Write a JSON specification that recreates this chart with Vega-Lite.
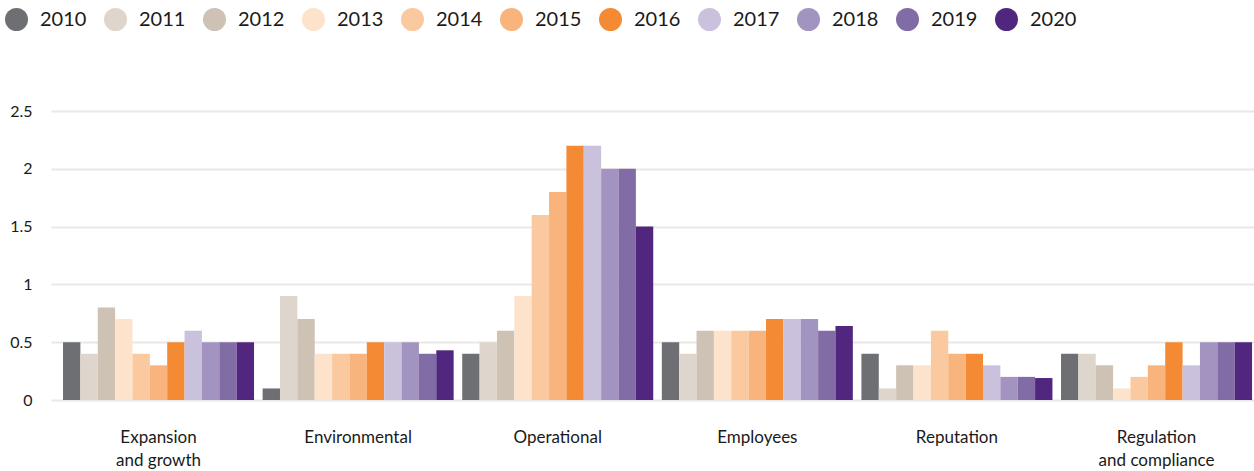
{
  "$schema": "https://vega.github.io/schema/vega-lite/v6.json",
  "width": 1203,
  "height": 289,
  "autosize": {"type": "none"},
  "padding": {"left": 51, "top": 111, "right": 0, "bottom": 71},
  "background": "white",
  "config": {
    "view": {"stroke": null},
    "font": "Lato"
  },
  "data": {
    "values": [
      {"category": "Expansion and growth", "year": "2010", "value": 0.5},
      {"category": "Expansion and growth", "year": "2011", "value": 0.4},
      {"category": "Expansion and growth", "year": "2012", "value": 0.8},
      {"category": "Expansion and growth", "year": "2013", "value": 0.7},
      {"category": "Expansion and growth", "year": "2014", "value": 0.4},
      {"category": "Expansion and growth", "year": "2015", "value": 0.3},
      {"category": "Expansion and growth", "year": "2016", "value": 0.5},
      {"category": "Expansion and growth", "year": "2017", "value": 0.6},
      {"category": "Expansion and growth", "year": "2018", "value": 0.5},
      {"category": "Expansion and growth", "year": "2019", "value": 0.5},
      {"category": "Expansion and growth", "year": "2020", "value": 0.5},
      {"category": "Environmental", "year": "2010", "value": 0.1},
      {"category": "Environmental", "year": "2011", "value": 0.9},
      {"category": "Environmental", "year": "2012", "value": 0.7},
      {"category": "Environmental", "year": "2013", "value": 0.4},
      {"category": "Environmental", "year": "2014", "value": 0.4},
      {"category": "Environmental", "year": "2015", "value": 0.4},
      {"category": "Environmental", "year": "2016", "value": 0.5},
      {"category": "Environmental", "year": "2017", "value": 0.5},
      {"category": "Environmental", "year": "2018", "value": 0.5},
      {"category": "Environmental", "year": "2019", "value": 0.4},
      {"category": "Environmental", "year": "2020", "value": 0.43},
      {"category": "Operational", "year": "2010", "value": 0.4},
      {"category": "Operational", "year": "2011", "value": 0.5},
      {"category": "Operational", "year": "2012", "value": 0.6},
      {"category": "Operational", "year": "2013", "value": 0.9},
      {"category": "Operational", "year": "2014", "value": 1.6},
      {"category": "Operational", "year": "2015", "value": 1.8},
      {"category": "Operational", "year": "2016", "value": 2.2},
      {"category": "Operational", "year": "2017", "value": 2.2},
      {"category": "Operational", "year": "2018", "value": 2.0},
      {"category": "Operational", "year": "2019", "value": 2.0},
      {"category": "Operational", "year": "2020", "value": 1.5},
      {"category": "Employees", "year": "2010", "value": 0.5},
      {"category": "Employees", "year": "2011", "value": 0.4},
      {"category": "Employees", "year": "2012", "value": 0.6},
      {"category": "Employees", "year": "2013", "value": 0.6},
      {"category": "Employees", "year": "2014", "value": 0.6},
      {"category": "Employees", "year": "2015", "value": 0.6},
      {"category": "Employees", "year": "2016", "value": 0.7},
      {"category": "Employees", "year": "2017", "value": 0.7},
      {"category": "Employees", "year": "2018", "value": 0.7},
      {"category": "Employees", "year": "2019", "value": 0.6},
      {"category": "Employees", "year": "2020", "value": 0.64},
      {"category": "Reputation", "year": "2010", "value": 0.4},
      {"category": "Reputation", "year": "2011", "value": 0.1},
      {"category": "Reputation", "year": "2012", "value": 0.3},
      {"category": "Reputation", "year": "2013", "value": 0.3},
      {"category": "Reputation", "year": "2014", "value": 0.6},
      {"category": "Reputation", "year": "2015", "value": 0.4},
      {"category": "Reputation", "year": "2016", "value": 0.4},
      {"category": "Reputation", "year": "2017", "value": 0.3},
      {"category": "Reputation", "year": "2018", "value": 0.2},
      {"category": "Reputation", "year": "2019", "value": 0.2},
      {"category": "Reputation", "year": "2020", "value": 0.19},
      {"category": "Regulation and compliance", "year": "2010", "value": 0.4},
      {"category": "Regulation and compliance", "year": "2011", "value": 0.4},
      {"category": "Regulation and compliance", "year": "2012", "value": 0.3},
      {"category": "Regulation and compliance", "year": "2013", "value": 0.1},
      {"category": "Regulation and compliance", "year": "2014", "value": 0.2},
      {"category": "Regulation and compliance", "year": "2015", "value": 0.3},
      {"category": "Regulation and compliance", "year": "2016", "value": 0.5},
      {"category": "Regulation and compliance", "year": "2017", "value": 0.3},
      {"category": "Regulation and compliance", "year": "2018", "value": 0.5},
      {"category": "Regulation and compliance", "year": "2019", "value": 0.5},
      {"category": "Regulation and compliance", "year": "2020", "value": 0.5}
    ]
  },
  "mark": {"type": "bar"},
  "encoding": {
    "x": {
      "field": "category",
      "type": "nominal",
      "sort": null,
      "scale": {"paddingInner": 0.043, "paddingOuter": 0.035, "align": 0.86},
      "axis": {
        "title": null,
        "labelAngle": 0,
        "domain": false,
        "ticks": false,
        "labelFontSize": 17,
        "labelColor": "#1a1a1a",
        "labelPadding": 37,
        "labelLineHeight": 23,
        "labelBaseline": "middle",
        "labelExpr": "datum.label === 'Expansion and growth' ? ['Expansion', 'and growth'] : datum.label === 'Regulation and compliance' ? ['Regulation', 'and compliance'] : datum.label"
      }
    },
    "xOffset": {
      "field": "year",
      "type": "nominal",
      "scale": {"paddingInner": 0, "paddingOuter": 0}
    },
    "y": {
      "field": "value",
      "type": "quantitative",
      "scale": {"domain": [0, 2.5]},
      "axis": {
        "title": null,
        "values": [0, 0.5, 1, 1.5, 2, 2.5],
        "format": "~g",
        "domain": false,
        "ticks": false,
        "labelFontSize": 16,
        "labelColor": "#1a1a1a",
        "labelPadding": 19,
        "gridColor": "#ebe7e4",
        "gridWidth": 2
      }
    },
    "color": {
      "field": "year",
      "type": "nominal",
      "scale": {
        "domain": ["2010", "2011", "2012", "2013", "2014", "2015", "2016", "2017", "2018", "2019", "2020"],
        "range": ["#6d6f73", "#ded6cc", "#cdc2b4", "#fde3cb", "#fbc9a0", "#f8b47c", "#f48a33", "#cac1dd", "#a393c0", "#816ca6", "#51267f"]
      },
      "legend": {
        "title": null,
        "orient": "none",
        "legendX": -46,
        "legendY": -103,
        "direction": "horizontal",
        "columns": 11,
        "gridAlign": "all",
        "symbolType": "circle",
        "symbolSize": 529,
        "symbolStrokeWidth": 0,
        "symbolOpacity": 1,
        "labelFontSize": 20,
        "labelFontWeight": "normal",
        "labelColor": "#1a1a1a",
        "labelOffset": 12,
        "columnPadding": 17,
        "padding": 0
      }
    }
  }
}
